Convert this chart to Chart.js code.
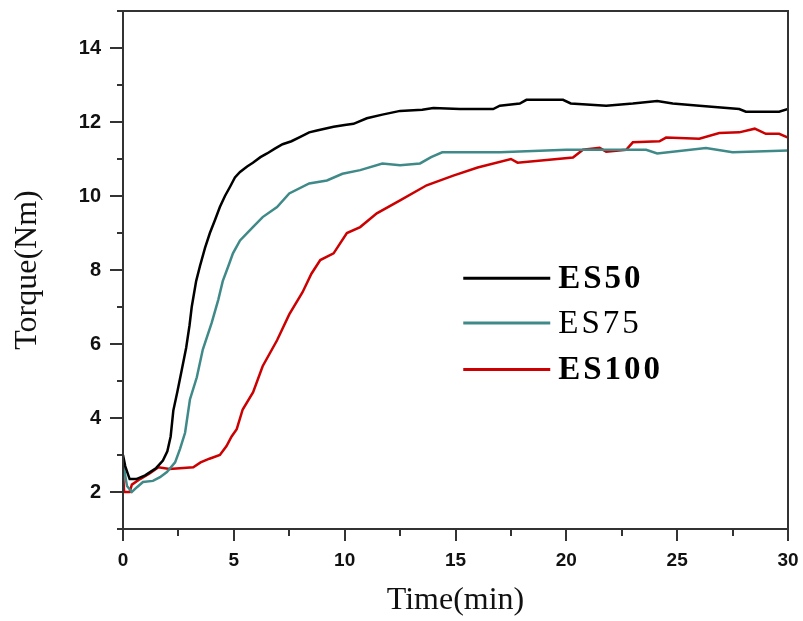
<!DOCTYPE html>
<html>
<head>
<meta charset="utf-8">
<script src="https://cdn.jsdelivr.net/npm/chart.js@4/dist/chart.umd.min.js"></script>
<style>
  html, body { margin: 0; padding: 0; background: #fff; }
  #wrap { width: 803px; height: 621px; }
</style>
</head>
<body>
<div id="wrap"><canvas id="torqueChart" width="803" height="621"></canvas></div>
<script>
// readings (time in min, torque in Nm)
const seriesNames = ["ES50", "ES75", "ES100"];
const seriesColors = ["#000000", "#3f8a88", "#cc0000"];
const legendBold = [true, false, true];

const es50Time = [0, 0.1, 0.3, 0.6, 1.0, 1.5, 1.8, 2.0, 2.15, 2.27, 2.45, 2.65, 2.85, 3.0, 3.1, 3.3, 3.47, 3.7, 3.92, 4.15, 4.37, 4.6, 4.83, 5.05, 5.28, 5.6, 5.86, 6.2, 6.5, 6.85, 7.2, 7.6, 8.0, 8.4, 8.75, 9.1, 9.5, 10.0, 10.4, 11.0, 11.7, 12.5, 13.5, 14.0, 15.2, 16.7, 17.0, 17.9, 18.2, 19.85, 20.2, 21.8, 23.0, 24.1, 24.8, 26.0, 27.8, 28.1, 29.6, 30.0];
const es50Torque = [3.0, 2.7, 2.35, 2.35, 2.45, 2.65, 2.85, 3.1, 3.5, 4.2, 4.7, 5.3, 5.9, 6.5, 7.0, 7.7, 8.1, 8.6, 9.0, 9.35, 9.7, 10.0, 10.25, 10.5, 10.65, 10.8, 10.9, 11.05, 11.15, 11.28, 11.4, 11.48, 11.6, 11.72, 11.77, 11.82, 11.87, 11.92, 11.95, 12.1, 12.2, 12.3, 12.33, 12.38, 12.35, 12.35, 12.44, 12.5, 12.6, 12.6, 12.5, 12.44, 12.5, 12.57, 12.5, 12.44, 12.35, 12.28, 12.28, 12.35];

const es75Time = [0, 0.18, 0.4, 0.63, 0.9, 1.35, 1.67, 1.98, 2.35, 2.57, 2.8, 3.02, 3.33, 3.6, 4.0, 4.3, 4.5, 4.75, 4.96, 5.28, 5.86, 6.3, 6.95, 7.5, 8.4, 9.2, 9.9, 10.7, 11.7, 12.5, 13.4, 13.9, 14.4, 17.0, 20.0, 23.6, 24.1, 26.3, 27.5, 30.0];
const es75Torque = [2.8, 2.16, 2.0, 2.13, 2.27, 2.3, 2.4, 2.54, 2.8, 3.16, 3.6, 4.5, 5.1, 5.85, 6.57, 7.2, 7.7, 8.1, 8.45, 8.8, 9.16, 9.43, 9.7, 10.07, 10.34, 10.42, 10.6, 10.7, 10.88, 10.83, 10.88, 11.05, 11.18, 11.18, 11.25, 11.25, 11.15, 11.3, 11.18, 11.23];

const es100Time = [0, 0.05, 0.3, 0.4, 0.77, 1.2, 1.6, 2.1, 3.17, 3.5, 3.9, 4.37, 4.67, 4.9, 5.13, 5.4, 5.87, 6.3, 6.95, 7.5, 8.1, 8.5, 8.9, 9.5, 10.1, 10.7, 11.45, 12.5, 13.7, 14.9, 16.0, 17.5, 17.8, 20.3, 20.75, 21.5, 21.8, 22.7, 23.0, 24.2, 24.5, 26.0, 26.9, 27.8, 28.5, 29.0, 29.6, 30.0];
const es100Torque = [2.54, 2.0, 2.0, 2.2, 2.35, 2.5, 2.67, 2.62, 2.67, 2.8, 2.9, 3.0, 3.24, 3.5, 3.7, 4.23, 4.7, 5.4, 6.1, 6.8, 7.4, 7.9, 8.27, 8.45, 9.0, 9.16, 9.53, 9.88, 10.29, 10.55, 10.77, 11.0, 10.9, 11.04, 11.25, 11.3, 11.2, 11.25, 11.45, 11.48, 11.58, 11.55, 11.7, 11.72, 11.82, 11.68, 11.68, 11.58];

const xTickLabels = [0, 5, 10, 15, 20, 25, 30];
const yTickLabels = [2, 4, 6, 8, 10, 12, 14];

// legend placement in data units (left end of the sample line, row centres)
const legendX = 15.35;
const legendRows = [7.78, 6.57, 5.31];

const times = [es50Time, es75Time, es100Time];
const torques = [es50Torque, es75Torque, es100Torque];

function toPoints(xs, ys) {
  return xs.map((x, i) => ({ x: x, y: ys[i] }));
}

// frame, outward tick marks (long for labelled ones) and the legend
const framePlugin = {
  id: 'frame',
  afterDraw(chart) {
    const ctx = chart.ctx;
    const a = chart.chartArea;
    const xs = chart.scales.x;
    const ys = chart.scales.y;
    ctx.save();
    ctx.strokeStyle = '#333';
    ctx.lineWidth = 2;
    ctx.strokeRect(a.left, a.top, a.right - a.left, a.bottom - a.top);
    ctx.beginPath();
    xs.ticks.forEach(t => {
      const px = Math.round(xs.getPixelForValue(t.value));
      const len = xTickLabels.includes(t.value) ? 12 : 7;
      ctx.moveTo(px, a.bottom);
      ctx.lineTo(px, a.bottom + len);
    });
    ys.ticks.forEach(t => {
      const py = Math.round(ys.getPixelForValue(t.value));
      const len = yTickLabels.includes(t.value) ? 13 : 6;
      ctx.moveTo(a.left, py);
      ctx.lineTo(a.left - len, py);
    });
    ctx.stroke();

    const lx = xs.getPixelForValue(legendX);
    seriesNames.forEach((name, i) => {
      const ly = ys.getPixelForValue(legendRows[i]);
      ctx.strokeStyle = seriesColors[i];
      ctx.lineWidth = 3;
      ctx.beginPath();
      ctx.moveTo(lx, ly);
      ctx.lineTo(lx + 87, ly);
      ctx.stroke();
      ctx.fillStyle = '#000';
      ctx.font = (legendBold[i] ? 'bold ' : '') + '33px "Liberation Serif", "Times New Roman", serif';
      ctx.letterSpacing = '3px';
      ctx.textBaseline = 'middle';
      ctx.textAlign = 'left';
      ctx.fillText(name, lx + 95, ly + 1);
    });
    ctx.restore();
  }
};

const chart = new Chart(document.getElementById('torqueChart').getContext('2d'), {
  type: 'line',
  data: {
    datasets: seriesNames.map((name, i) => ({
      label: name,
      data: toPoints(times[i], torques[i]),
      borderColor: seriesColors[i],
      borderWidth: 2.5,
      pointRadius: 0,
      tension: 0,
      fill: false
    }))
  },
  options: {
    responsive: false,
    animation: false,
    layout: { padding: { top: 11, right: 15, left: 0, bottom: 0 } },
    plugins: {
      legend: { display: false },
      tooltip: { enabled: false }
    },
    scales: {
      x: {
        type: 'linear',
        min: 0,
        max: 30,
        afterFit(scale) {
          scale.height = 92;
          scale.paddingLeft = 0;
          scale.paddingRight = 0;
        },
        grid: { display: false, drawTicks: false },
        border: { display: false },
        ticks: {
          stepSize: 2.5,
          autoSkip: false,
          maxRotation: 0,
          padding: 20,
          color: '#111',
          font: { family: '"Liberation Sans", Arial, sans-serif', size: 19, weight: 'bold' },
          callback: v => xTickLabels.includes(v) ? String(v) : ''
        },
        title: {
          display: true,
          text: 'Time(min)',
          color: '#111',
          padding: { top: 0, bottom: 1 },
          font: { family: '"Liberation Serif", "Times New Roman", serif', size: 32 }
        }
      },
      y: {
        type: 'linear',
        min: 1,
        max: 15,
        afterFit(scale) {
          scale.width = 123;
          scale.paddingTop = 0;
          scale.paddingBottom = 0;
        },
        grid: { display: false, drawTicks: false },
        border: { display: false },
        ticks: {
          stepSize: 1,
          autoSkip: false,
          padding: 22,
          color: '#111',
          font: { family: '"Liberation Sans", Arial, sans-serif', size: 20, weight: 'bold' },
          callback: v => yTickLabels.includes(v) ? String(v) : ''
        },
        title: {
          display: true,
          text: 'Torque(Nm)',
          color: '#111',
          padding: { top: 8, bottom: 0 },
          font: { family: '"Liberation Serif", "Times New Roman", serif', size: 32 }
        }
      }
    }
  },
  plugins: [framePlugin]
});
</script>
</body>
</html>
